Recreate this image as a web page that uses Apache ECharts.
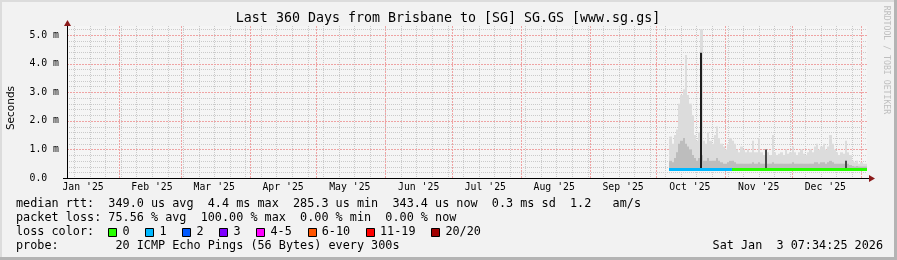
<!DOCTYPE html>
<html><head><meta charset="utf-8">
<script src="https://cdn.jsdelivr.net/npm/echarts@6/dist/echarts.min.js"></script>
<style>html,body{margin:0;padding:0;background:#f2f2f2;}#c{width:897px;height:260px;}</style>
</head><body><div id="c"></div><script>
// ---------- data ----------
const titleText = 'Last 360 Days from Brisbane to [SG] SG.GS [www.sg.gs]';
const yTickValues = [0, 1, 2, 3, 4, 5];
const yTickLabels = ['0.0  ', '1.0 m', '2.0 m', '3.0 m', '4.0 m', '5.0 m'];
const yMajorGrid = [1, 2, 3, 4, 5];
const yMinorGrid = [0.2,0.4,0.6,0.8,1.2,1.4,1.6,1.8,2.2,2.4,2.6,2.8,3.2,3.4,3.6,3.8,4.2,4.4,4.6,4.8,5.2];
// x axis in days since 2025-01-01 00:00
const xMin = 7.75, xMax = 367.75;
const monthStarts = [31, 59, 90, 120, 151, 181, 212, 243, 273, 304, 334, 365];
const monthLabelPos = [15, 46, 74, 105, 135, 166, 196, 227, 258, 288, 319, 349];
const monthLabels = ["Jan '25","Feb '25","Mar '25","Apr '25","May '25","Jun '25","Jul '25","Aug '25","Sep '25","Oct '25","Nov '25","Dec '25"];
const firstWeekLine = 11;
// smoke bins: one day each, starting at binStart
const binStart = 278.8;
const smokeMin = 0.28;
const smokeMax = [1.45,1.2,1.5,1.7,2.6,2.9,3.1,4.3,2.9,2.6,
 2.2,1.5,1.3,1.6,5.2,1.3,1.2,1.6,1.3,1.2,
 1.5,1.8,1.4,1.2,1.1,1.0,1.2,1.4,1.3,1.2,
 1.0,0.9,1.1,1.0,0.9,1.0,0.9,1.3,0.9,0.9,
 1.4,0.9,0.8,1.0,0.9,0.8,1.5,0.9,0.8,0.85,
 0.9,0.8,1.0,0.85,0.9,1.1,0.9,0.8,0.9,1.0,
 0.85,0.8,0.9,1.0,0.9,1.1,1.2,1.0,1.1,1.2,
 1.0,1.1,1.5,1.2,1.0,0.9,0.8,0.9,0.85,1.3,
 0.9,0.8,0.6,0.55,0.6,0.5,0.55,0.5,0.5];
const smokeMid = [0.6,0.55,0.7,0.9,1.2,1.3,1.4,1.2,1.1,1.0,
 0.8,0.7,0.6,0.7,0.8,0.6,0.6,0.7,0.6,0.6,
 0.6,0.7,0.6,0.55,0.5,0.5,0.55,0.6,0.6,0.55,
 0.5,0.5,0.5,0.5,0.5,0.5,0.5,0.55,0.5,0.5,
 0.55,0.5,0.5,0.55,0.5,0.5,0.55,0.5,0.5,0.5,
 0.5,0.5,0.5,0.5,0.5,0.55,0.5,0.5,0.5,0.5,
 0.5,0.5,0.5,0.5,0.5,0.55,0.55,0.5,0.55,0.55,
 0.5,0.55,0.6,0.55,0.5,0.5,0.5,0.5,0.5,0.6,
 0.5,0.45,0.42,0.4,0.42,0.4,0.4,0.4,0.4];
const smokeDark = [0,0,0,0,0,0,0,0,0,0,
 0,0,0,0,4.38,0,0,0,0,0,
 0,0,0,0,0,0,0,0,0,0,
 0,0,0,0,0,0,0,0,0,0,
 0,0,0,1.0,0,0,0,0,0,0,
 0,0,0,0,0,0,0,0,0,0,
 0,0,0,0,0,0,0,0,0,0,
 0,0,0,0,0,0,0,0,0,0.6,
 0,0,0,0,0,0,0,0,0];
const median = [0.31,0.31,0.30,0.31,0.31,0.32,0.31,0.31,0.31,0.31,
 0.31,0.31,0.31,0.31,0.31,0.31,0.31,0.30,0.31,0.31,
 0.31,0.31,0.31,0.31,0.31,0.31,0.31,0.31,0.33,0.33,
 0.33,0.33,0.33,0.33,0.33,0.33,0.33,0.33,0.33,0.33,
 0.33,0.33,0.33,0.33,0.33,0.33,0.33,0.33,0.33,0.33,
 0.33,0.33,0.33,0.33,0.33,0.33,0.33,0.33,0.33,0.33,
 0.33,0.33,0.33,0.33,0.33,0.33,0.33,0.33,0.33,0.33,
 0.33,0.33,0.33,0.33,0.33,0.32,0.33,0.33,0.33,0.33,
 0.33,0.32,0.33,0.33,0.33,0.33,0.33,0.33,0.33];
const lossIdx = [1,1,1,1,1,1,1,1,1,1,
 1,1,1,1,1,1,1,1,1,1,
 1,1,1,1,1,1,1,1,0,0,
 0,0,0,0,0,0,0,0,0,0,
 0,0,0,0,0,0,0,0,0,0,
 0,0,0,0,0,0,0,0,0,0,
 0,0,0,0,0,0,0,0,0,0,
 0,0,0,0,0,0,0,0,0,0,
 0,0,0,0,0,0,0,0,0];
const lossColors = ['#26ff00','#00b8ff','#0059ff','#7e00ff','#ff00ff','#ff5500','#ff0000','#a10000'];
const lossLabels = ['0','1','2','3','4-5','6-10','11-19','20/20'];
const legendLines = [
  'median rtt:  349.0 us avg  4.4 ms max  285.3 us min  343.4 us now  0.3 ms sd  1.2   am/s',
  'packet loss: 75.56 % avg  100.00 % max  0.00 % min  0.00 % now'
];
const lossTitle = 'loss color:';
const probeLine = 'probe:        20 ICMP Echo Pings (56 Bytes) every 300s';
const dateText = 'Sat Jan  3 07:34:25 2026';
const yAxisName = 'Seconds';
const watermark = 'RRDTOOL / TOBI OETIKER';

// ---------- build ----------
const MONO = '"DejaVu Sans Mono", monospace';
const weekLines = [];
for (let d = firstWeekLine; d < xMax; d += 7) weekLines.push(d);

const smokeData = smokeMax.map((mx, i) => [binStart + i, smokeMin, mx, smokeMid[i], smokeDark[i], median[i], lossIdx[i]]);

function smokeItem(params, api) {
  const cs = params.coordSys;
  const d = api.value(0);
  const X0 = Math.round(api.coord([d, 0])[0]);
  let X1 = Math.round(api.coord([d + 1, 0])[0]);
  X1 = Math.min(X1, cs.x + cs.width);
  const w = X1 - X0;
  const yLo = api.coord([d, api.value(1)])[1];
  const yHi = api.coord([d, api.value(2)])[1];
  const yMid = api.coord([d, api.value(3)])[1];
  const dk = api.value(4);
  const yMed = Math.round(api.coord([d, api.value(5)])[1]);
  const kids = [
    {type:'rect', shape:{x:X0, y:yHi, width:w, height:yLo - yHi}, style:{fill:'#dcdcdc'}},
    {type:'rect', shape:{x:X0, y:yMid, width:w, height:yLo - yMid}, style:{fill:'#bdbdbd'}}
  ];
  if (dk > 0) {
    const yDk = api.coord([d, dk])[1];
    kids.push({type:'rect', shape:{x:X0, y:yDk, width:Math.min(w, 2), height:yLo - yDk}, style:{fill:dk > 2 ? '#1e1e1e' : '#4a4a4a'}});
  }
  kids.push({type:'rect', shape:{x:X0, y:yMed - 1, width:w, height:3}, style:{fill:lossColors[api.value(6)]}});
  return {type:'group', children:kids};
}

function vLine(color, dash) {
  return function (params, api) {
    const cs = params.coordSys;
    const x = Math.round(api.coord([api.value(0), 0])[0]) + 0.5;
    if (x <= cs.x + 1 || x >= cs.x + cs.width) return null;
    return {type:'line', shape:{x1:x, y1:cs.y, x2:x, y2:cs.y + cs.height}, style:{stroke:color, lineWidth:1, lineDash:dash}};
  };
}
function hLine(color, dash) {
  return function (params, api) {
    const cs = params.coordSys;
    const y = Math.round(api.coord([xMin, api.value(1)])[1]) + 0.5;
    return {type:'line', shape:{x1:cs.x, y1:y, x2:cs.x + cs.width, y2:y}, style:{stroke:color, lineWidth:1, lineDash:dash}};
  };
}

const graphics = [];
// 3D frame
graphics.push({type:'rect', shape:{x:0, y:0, width:897, height:2}, style:{fill:'#dcdcdc'}, silent:true});
graphics.push({type:'rect', shape:{x:0, y:0, width:2, height:260}, style:{fill:'#dcdcdc'}, silent:true});
graphics.push({type:'rect', shape:{x:894, y:0, width:3, height:260}, style:{fill:'#b4b4b4'}, silent:true});
graphics.push({type:'rect', shape:{x:0, y:257, width:897, height:3}, style:{fill:'#b4b4b4'}, silent:true});
// title
graphics.push({type:'text', x:448, y:19, style:{text:titleText, font:'13.3px ' + MONO, fill:'#000', align:'center', verticalAlign:'middle'}});
// y axis name
graphics.push({type:'text', x:11, y:108, rotation:Math.PI/2, style:{text:yAxisName, font:'10.5px "DejaVu Sans", sans-serif', fill:'#000', align:'center', verticalAlign:'middle'}});
// watermark
graphics.push({type:'text', x:886, y:60, rotation:-Math.PI/2, style:{text:watermark, font:'8.2px ' + MONO, fill:'#bfbfbf', align:'center', verticalAlign:'middle'}});
// axes lines + arrows
graphics.push({type:'line', shape:{x1:67.5, y1:24, x2:67.5, y2:178}, style:{stroke:'#000', lineWidth:1}, z:19});
graphics.push({type:'line', shape:{x1:63, y1:178.5, x2:869, y2:178.5}, style:{stroke:'#000', lineWidth:1}, z:19});
graphics.push({type:'polygon', shape:{points:[[64,26],[71,26],[67.5,20]]}, style:{fill:'#8b1a1a'}, z:20});
graphics.push({type:'polygon', shape:{points:[[869,175],[869,182],[875,178.5]]}, style:{fill:'#8b1a1a'}, z:20});
// legend text
const CW = 7.1, LX = 16;
legendLines.forEach((t, i) => {
  graphics.push({type:'text', x:LX, y:204.3 + 14*i, style:{text:t, font:'11.8px ' + MONO, fill:'#000', verticalAlign:'middle'}});
});
graphics.push({type:'text', x:LX, y:232.3, style:{text:lossTitle, font:'11.8px ' + MONO, fill:'#000', verticalAlign:'middle'}});
let bx = LX + 13 * CW;
lossLabels.forEach((lab, i) => {
  graphics.push({type:'rect', shape:{x:Math.round(bx) + 0.5, y:228.5, width:8, height:8}, style:{fill:lossColors[i], stroke:'#000', lineWidth:1}});
  const lx = bx + 2 * CW;
  graphics.push({type:'text', x:lx, y:232.3, style:{text:lab, font:'11.8px ' + MONO, fill:'#000', verticalAlign:'middle'}});
  bx = lx + (lab.length + 2) * CW + 1.5;
});
graphics.push({type:'text', x:LX, y:246.3, style:{text:probeLine, font:'11.8px ' + MONO, fill:'#000', verticalAlign:'middle'}});
graphics.push({type:'text', x:883, y:246.3, style:{text:dateText, font:'11.8px ' + MONO, fill:'#000', align:'right', verticalAlign:'middle'}});

const option = {
  animation: false,
  backgroundColor: '#f2f2f2',
  grid: {left:67, top:26, width:800, height:152, show:true, backgroundColor:'#f5f5f5', borderWidth:0},
  xAxis: {
    type:'value', min:xMin, max:xMax,
    axisLine:{show:false}, axisTick:{show:false}, splitLine:{show:false},
    axisLabel:{
      customValues: monthLabelPos,
      formatter: v => { const k = monthLabelPos.indexOf(Math.round(v)); return k >= 0 ? monthLabels[k] : ''; },
      fontFamily:'DejaVu Sans Mono', fontSize:9.8, color:'#000', margin:4, hideOverlap:false
    }
  },
  yAxis: {
    type:'value', min:0, max:152/28.6, interval:1,
    axisLine:{show:false}, axisTick:{show:false}, splitLine:{show:false},
    axisLabel:{
      formatter: v => { const k = yTickValues.indexOf(v); return k >= 0 ? yTickLabels[k] : ''; },
      fontFamily:'DejaVu Sans Mono', fontSize:9.8, color:'#000', margin:8, showMaxLabel:false
    }
  },
  series: [
    {type:'custom', name:'weekGrid', renderItem:vLine('#cacaca', [1,1]), data:weekLines.map(v => [v, 0]), z:1, silent:true},
    {type:'custom', name:'yMinorGrid', renderItem:hLine('#cacaca', [1,1]), data:yMinorGrid.map(v => [xMin, v]), z:1, silent:true},
    {type:'custom', name:'monthGrid', renderItem:vLine('#efa3a3', [2,1]), data:monthStarts.map(v => [v, 0]), z:2, silent:true},
    {type:'custom', name:'yMajorGrid', renderItem:hLine('#efa3a3', [2,1]), data:yMajorGrid.map(v => [xMin, v]), z:2, silent:true},
    {type:'custom', name:'smoke', renderItem:smokeItem, data:smokeData, clip:true, z:5, silent:true}
  ],
  graphic: graphics
};
const chart = echarts.init(document.getElementById('c'), null, {renderer:'canvas', width:897, height:260});
chart.setOption(option);
</script></body></html>
